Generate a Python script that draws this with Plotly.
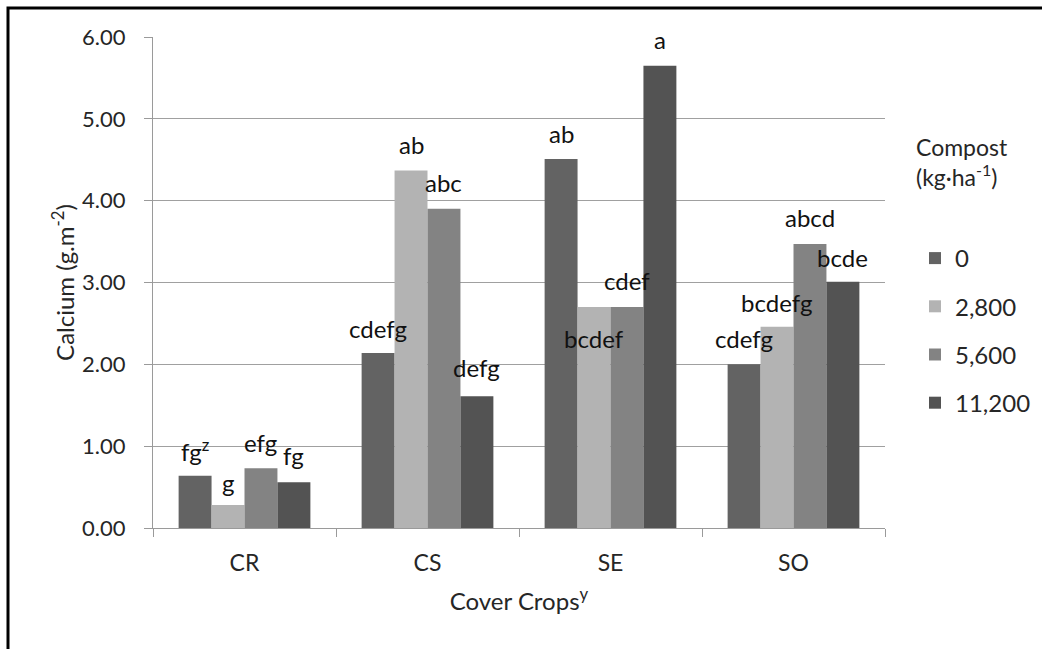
import plotly.graph_objects as go

categories = ["CR", "CS", "SE", "SO"]
series_names = ["0", "2,800", "5,600", "11,200"]
values = [
    [0.64, 2.14, 4.51, 2.00],
    [0.28, 4.37, 2.70, 2.46],
    [0.73, 3.90, 2.70, 3.47],
    [0.56, 1.61, 5.65, 3.01],
]
letters = [
    ["fg<sup>z</sup>", "cdefg", "ab", "cdefg"],
    ["g", "ab", "bcdef", "bcdefg"],
    ["efg", "abc", "cdef", "abcd"],
    ["fg", "defg", "a", "bcde"],
]
label_y = [
    [0.95, 2.44, 4.82, 2.32],
    [0.56, 4.69, 2.32, 2.76],
    [1.04, 4.22, 3.03, 3.80],
    [0.88, 1.96, 5.97, 3.31],
]
colors = ["#636363", "#b3b3b3", "#838383", "#535353"]
y_ticks = [0, 1, 2, 3, 4, 5, 6]
legend_title = "Compost<br>(kg·ha<sup>-1</sup>)"

W, H = 1042, 649
ML, MR, MT, MB = 153, 157, 37, 121
FONT = "Lato"
TXT = "#262626"
bargap = 0.28
pw = W - ML - MR
ph = H - MT - MB
bar_px = pw / len(categories) * (1 - bargap) / len(series_names)

fig = go.Figure()
for i, name in enumerate(series_names):
    fig.add_trace(go.Bar(
        x=categories, y=values[i], name=name,
        marker=dict(color=colors[i], line=dict(width=0)),
        legendgroup=name,
    ))

def px_x(p):
    return (p - ML) / pw

def px_y(p):
    return (H - MB - p) / ph

annotations = []
for i in range(len(series_names)):
    for j, c in enumerate(categories):
        annotations.append(dict(
            x=c, y=label_y[i][j], xref="x", yref="y",
            text=letters[i][j], showarrow=False,
            xshift=(i - 1.5) * bar_px, yanchor="middle",
            font=dict(family=FONT, size=24, color="#111111"),
        ))
annotations.append(dict(
    x=px_x(914), y=px_y(131), xref="paper", yref="paper",
    xanchor="left", yanchor="top", align="left", showarrow=False,
    text=legend_title, font=dict(family=FONT, size=23, color=TXT),
))

fig.update_layout(
    width=W, height=H,
    margin=dict(l=ML, r=MR, t=MT, b=MB, autoexpand=False),
    paper_bgcolor="white", plot_bgcolor="white",
    barmode="group", bargap=bargap, bargroupgap=0,
    font=dict(family=FONT, size=22, color=TXT),
    annotations=annotations,
    showlegend=True,
    legend=dict(
        x=px_x(915), y=px_y(236), xanchor="left", yanchor="top",
        font=dict(family=FONT, size=24, color=TXT),
        traceorder="grouped", tracegroupgap=14,
        bgcolor="rgba(0,0,0,0)",
    ),
    xaxis=dict(
        showline=True, linecolor="#9a9a9a", linewidth=1,
        ticks="outside", tickson="boundaries", ticklen=8, tickcolor="#9a9a9a",
        ticklabelstandoff=14,
        tickfont=dict(family=FONT, size=23, color=TXT),
        title=dict(text="Cover Crops<sup>y</sup>", standoff=18, font=dict(family=FONT, size=24, color=TXT)),
        showgrid=False,
    ),
    yaxis=dict(
        range=[0, 6], tickvals=y_ticks, ticktext=[f"{v:.2f}" for v in y_ticks],
        showline=True, linecolor="#9a9a9a", linewidth=1,
        ticks="outside", ticklen=8, tickcolor="#9a9a9a",
        ticklabelstandoff=14,
        showgrid=True, gridcolor="#a0a0a0", gridwidth=1,
        zeroline=False,
        tickfont=dict(family=FONT, size=22, color=TXT),
        title=dict(text="Calcium (g.m<sup>-2</sup>)", standoff=0, font=dict(family=FONT, size=24, color=TXT)),
    ),
    shapes=[dict(
        type="rect", xref="paper", yref="paper",
        x0=px_x(8), x1=px_x(W + 10), y0=px_y(H + 10), y1=px_y(8),
        line=dict(color="black", width=3), fillcolor="rgba(0,0,0,0)",
    )],
)

fig.write_html("out.html")
